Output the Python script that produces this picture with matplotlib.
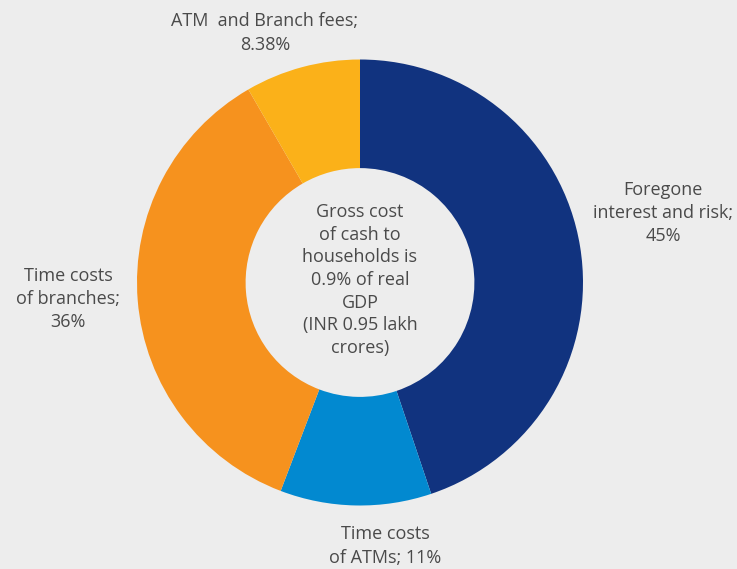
import matplotlib
matplotlib.use("Agg")
import matplotlib.pyplot as plt

categories = ["Foregone interest and risk", "Time costs of ATMs", "Time costs of branches", "ATM  and Branch fees"]
values = [45, 11, 36, 8.38]
colors = ["#11337f", "#0289d0", "#f6921e", "#fbb119"]
label_fmt = ["Foregone\ninterest and risk;\n{}%", "Time costs\nof ATMs; {}%", "Time costs\nof branches;\n{}%", "ATM  and Branch fees;\n{}%"]
# label anchor positions in pixel coordinates (x, y from top)
label_pos = [(663, 213), (385, 546), (68, 299), (265, 33)]
center_text = "Gross cost\nof cash to\nhouseholds is\n0.9% of real\nGDP\n(INR 0.95 lakh\ncrores)"

W, H = 737, 569
CX, CY, R = 360, 282.5, 223
BG = "#ededed"
TXT = "#4a4a4a"

plt.rcParams['font.family'] = ['Open Sans', 'DejaVu Sans']

fig = plt.figure(figsize=(W / 100, H / 100), dpi=100, facecolor=BG)
ax = fig.add_axes([0, 0, 1, 1])
ax.set_facecolor(BG)
ax.pie(values, colors=colors, startangle=90, counterclock=False, radius=1,
       wedgeprops=dict(width=0.487, linewidth=0))
ax.set_xlim(-CX / R, (W - CX) / R)
ax.set_ylim(-(H - CY) / R, CY / R)
ax.set_aspect('equal')
ax.axis('off')

def to_data(px, py):
    return (px - CX) / R, (CY - py) / R

for fmt, v, (px, py) in zip(label_fmt, values, label_pos):
    x, y = to_data(px, py)
    ax.text(x, y, fmt.format(f"{v:g}"), ha='center', va='center', fontsize=13,
            color=TXT, linespacing=1.38)

ax.text(0, to_data(CX, 280)[1], center_text, ha='center', va='center', fontsize=13,
        color=TXT, linespacing=1.33)

fig.savefig("out.png", dpi=100, facecolor=BG)
